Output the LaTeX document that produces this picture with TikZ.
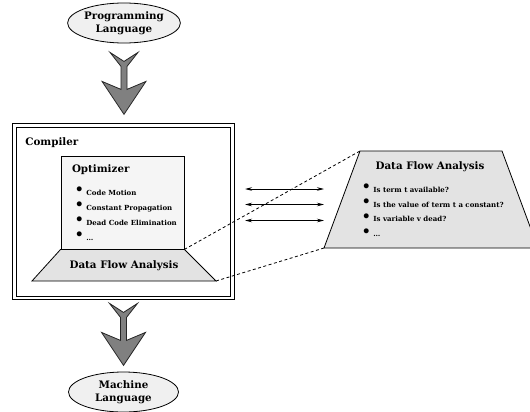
\documentclass[tikz,border=0pt]{standalone}
\usepackage{fontspec}
\setmainfont{DejaVu Serif}
\usepackage{tikz}
\usetikzlibrary{shapes.geometric, arrows.meta, positioning, calc}
\tikzstyle{lang} = [ellipse, draw, fill=gray!12, align=center, minimum width=110pt, minimum height=40pt, inner sep=0pt, font=\fontsize{10.3}{13.5}\selectfont\bfseries]
\tikzstyle{box} = [rectangle, draw, inner sep=0pt]
\tikzstyle{dfabox} = [draw, fill=gray!22]
\tikzstyle{head} = [inner sep=0pt, font=\fontsize{10.3}{13}\selectfont\bfseries]
\tikzstyle{item} = [inner sep=0pt, font=\fontsize{7}{9}\selectfont\bfseries]
\tikzstyle{link} = [dash pattern=on 3pt off 2.5pt]
\tikzset{bigarrow/.pic={
  \draw [fill=gray!100, draw=black!85, line join=miter] (-14,0) -- (0,9) -- (14,0) -- (3,14) -- (3,37) -- (22,29) -- (0,62) -- (-22,29) -- (-3,37) -- (-3,14) -- cycle;
}}
\newcommand{\itm}{\makebox[11.5pt][l]{\raisebox{0.6pt}{\fontsize{14}{14}\selectfont\textbullet}}}

\begin{document}
\begin{tikzpicture}[x=1pt, y=-1pt, line width=0.8pt]
\useasboundingbox (0,0) rectangle (530,412);
\node (src) [lang] at (124,23) {Programming\\Language};
\node (compiler) [box, double, double distance=2.5pt, minimum width=218pt, minimum height=172.5pt] at (123.5,211.75) {};
\node (cname) [head, anchor=west] at (25,143) {Compiler};
\node (opt) [box, fill=gray!8, minimum width=123pt, minimum height=93pt] at (122.5,202.5) {};
\node (oname) [head, anchor=west] at ($(opt.north west)+(11,14)$) {Optimizer};
\foreach \t [count=\i] in {Code Motion, Constant Propagation, Dead Code Elimination, \dots}
  \node (opt\i) [item, anchor=base west] at (74.5,180.5+15*\i) {\itm\t};
% small data flow block under the optimizer
\coordinate (dfatl) at (opt.south west);
\coordinate (dfatr) at (opt.south east);
\coordinate (dfabr) at (216,281);
\coordinate (dfabl) at (32,281);
\draw [dfabox] (dfatl) -- (dfatr) -- (dfabr) -- (dfabl) -- cycle;
\node (dfa) [head] at (124,266) {Data Flow Analysis};
% zoomed data flow block
\coordinate (zoomtl) at (360,151);
\coordinate (zoomtr) at (502,151);
\coordinate (zoombr) at (538,248);
\coordinate (zoombl) at (324,248);
\draw [dfabox] (zoomtl) -- (zoomtr) -- (zoombr) -- (zoombl) -- cycle;
\node (zname) [head] at (430,167) {Data Flow Analysis};
\foreach \t [count=\i] in {Is term t available?, Is the value of term t a constant?, Is variable v dead?, \dots}
  \node (zoom\i) [item, anchor=base west] at (361.5,177.8+14.7*\i) {\itm\t};
\pic at ($(src.south)+(0,9)$) {bigarrow};
\pic at ($(compiler.south)+(0,5)$) {bigarrow};
\node (dst) [lang] at (123.5,392) {Machine\\Language};
\foreach \y/\n in {189/a, 204.5/b, 220.5/c} {
  \coordinate (l\n) at (245,\y);
  \coordinate (r\n) at (324,\y);
  \draw [{Stealth[length=7pt, width=3.5pt]}-{Stealth[length=7pt, width=3.5pt]}] (l\n) -- (r\n);
}
\draw [link] (dfatr) -- (zoomtl);
\draw [link] (dfabr) -- (zoombl);
\end{tikzpicture}
\end{document}
